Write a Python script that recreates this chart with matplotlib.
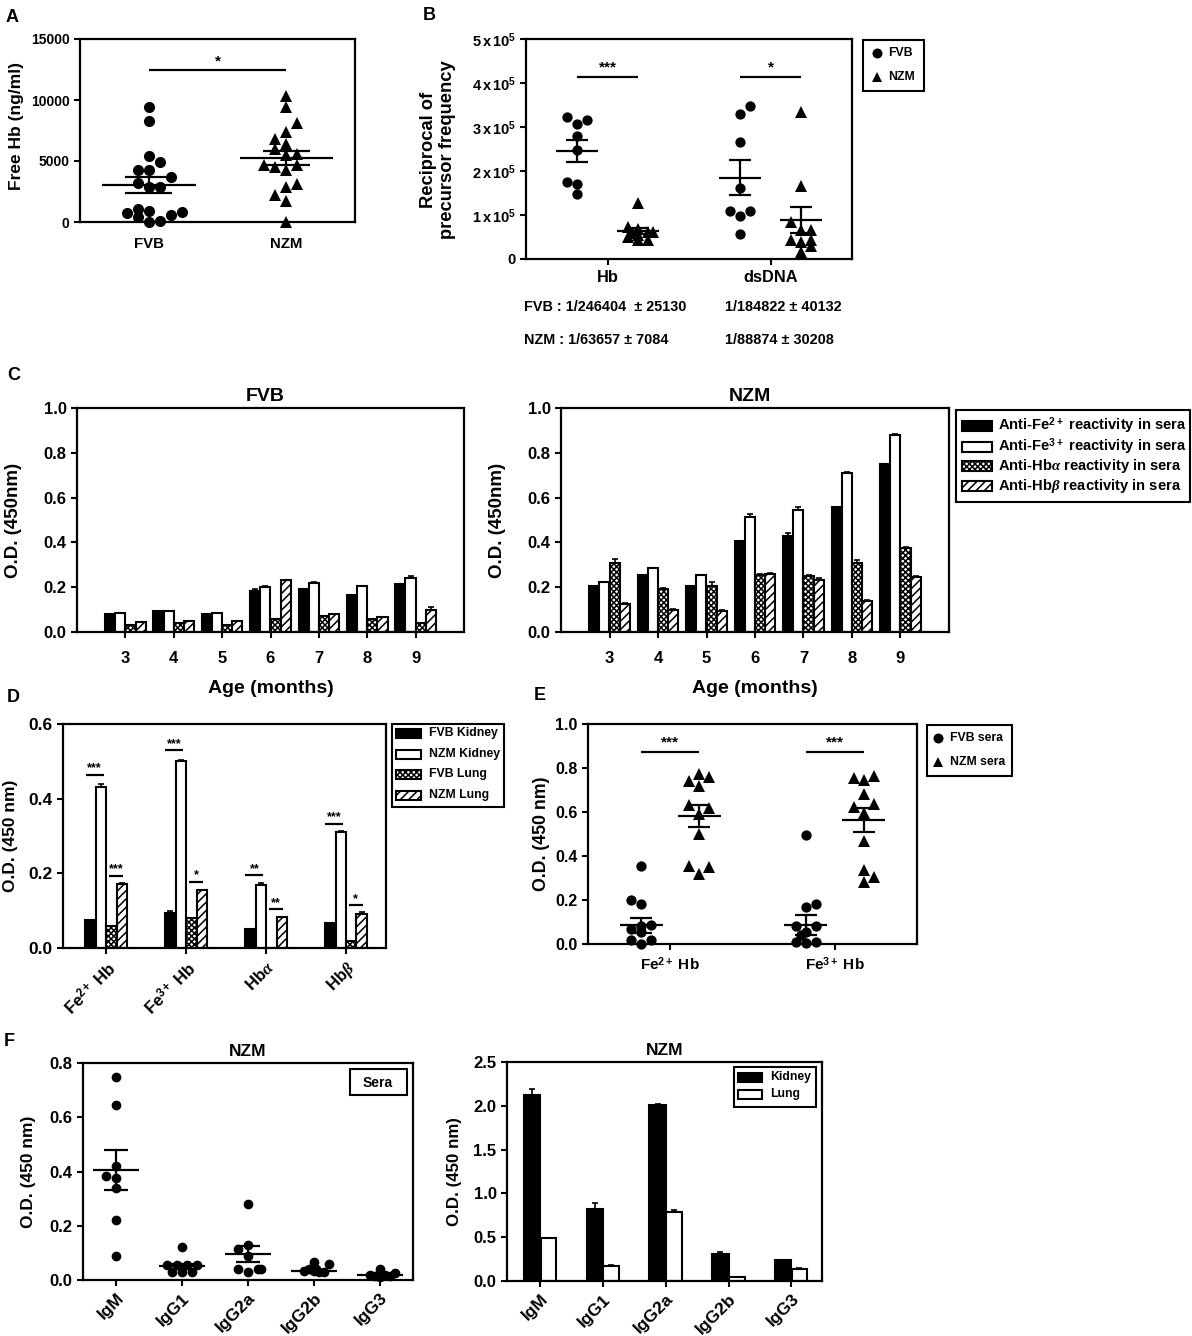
import matplotlib
matplotlib.use('Agg')
import matplotlib.pyplot as plt
from matplotlib.patches import Rectangle
import numpy as np

plt.rcParams['font.family'] = ['Liberation Sans', 'DejaVu Sans']
plt.rcParams['font.weight'] = 'bold'
plt.rcParams['mathtext.fontset'] = 'custom'
plt.rcParams['mathtext.rm'] = 'Liberation Sans:bold'
plt.rcParams['mathtext.bf'] = 'Liberation Sans:bold'
plt.rcParams['mathtext.it'] = 'Liberation Serif:italic'
plt.rcParams['hatch.linewidth'] = 1.1

# panel A
a_fvb = [9400, 8300, 5400, 4900, 4300, 4300, 3700, 3200, 2900, 2900, 1100, 900, 700, 600, 800, 400, 0, 50]
a_fvb_step = [0, 0, 0, 1, -1, 0, 2, -1, 0, 1, -1, 0, -2, 2, 3, -1, 0, 1]
a_nzm = [10300, 9400, 8100, 7400, 6800, 6400, 6000, 5500, 5600, 4700, 4500, 4300, 4700, 3100, 2900, 2200, 1700, 0]
a_nzm_step = [0, 0, 1, 0, -1, 0, -1, 0, 1, -2, -1, 0, 1, 1, 0, -1, 0, 0]
a_means = [3000, 5250]
a_errs = [650, 600]
a_labels = ['FVB', 'NZM']

# panel B
b_hb_fvb = [322000, 315000, 307000, 280000, 248000, 176000, 171000, 148000]
b_hb_fvb_step = [-1, 1, 0, 0, 0, -1, 0, 0]
b_hb_nzm = [128000, 72000, 68000, 62000, 62000, 50000, 55000, 43000, 43000, 60000]
b_hb_nzm_step = [0, -1, 0, 1, 1.5, -1, 0, 0, 1, -0.5]
b_ds_fvb = [348000, 330000, 265000, 162000, 108000, 110000, 97000, 56000]
b_ds_fvb_step = [1, 0, 0, 0, -1, 1, 0, 0]
b_ds_nzm = [333000, 166000, 83000, 65000, 67000, 43000, 38000, 43000, 30000, 15000]
b_ds_nzm_step = [0, 0, -1, 0, 1, -1, 0, 1, 1, 0]
b_means = [246404, 63657, 184822, 88874]
b_errs = [25130, 7084, 40132, 30208]
b_labels = ['Hb', 'dsDNA']
b_ticks = [0, 100000, 200000, 300000, 400000, 500000]
b_ticklabels = ['0', r'$\mathbf{1\,x\,10^{5}}$', r'$\mathbf{2\,x\,10^{5}}$', r'$\mathbf{3\,x\,10^{5}}$',
                r'$\mathbf{4\,x\,10^{5}}$', r'$\mathbf{5\,x\,10^{5}}$']

# panel C
ages = [3, 4, 5, 6, 7, 8, 9]
c_fvb_fe2 = [0.08, 0.095, 0.08, 0.185, 0.19, 0.165, 0.215]
c_fvb_fe3 = [0.085, 0.095, 0.085, 0.2, 0.22, 0.205, 0.24]
c_fvb_a = [0.03, 0.04, 0.03, 0.06, 0.07, 0.06, 0.04]
c_fvb_b = [0.045, 0.05, 0.05, 0.23, 0.08, 0.065, 0.1]
c_fvb_err = [[0, 0, 0, 0.005, 0, 0, 0], [0, 0, 0, 0.004, 0.003, 0, 0.008],
             [0, 0, 0, 0, 0, 0, 0], [0, 0, 0, 0.004, 0, 0, 0.012]]
c_nzm_fe2 = [0.205, 0.255, 0.205, 0.405, 0.43, 0.56, 0.75]
c_nzm_fe3 = [0.225, 0.285, 0.255, 0.515, 0.545, 0.71, 0.88]
c_nzm_a = [0.31, 0.19, 0.205, 0.255, 0.25, 0.31, 0.375]
c_nzm_b = [0.125, 0.10, 0.095, 0.26, 0.23, 0.14, 0.245]
c_nzm_err = [[0, 0, 0, 0, 0.012, 0, 0], [0, 0, 0, 0.012, 0.015, 0.003, 0.002],
             [0.015, 0.005, 0.02, 0.005, 0.005, 0.012, 0.003], [0.004, 0.003, 0.003, 0.004, 0.01, 0.005, 0.003]]

# panel D
d_labels = [r'Fe$^{\mathbf{2+}}$ Hb', r'Fe$^{\mathbf{3+}}$ Hb', r'Hb$\alpha$', r'Hb$\beta$']
d_fvb_k = [0.075, 0.095, 0.05, 0.067]
d_nzm_k = [0.43, 0.5, 0.17, 0.312]
d_fvb_l = [0.06, 0.08, 0.0, 0.02]
d_nzm_l = [0.172, 0.155, 0.083, 0.092]
d_errs = [[0, 0.005, 0, 0], [0.008, 0.003, 0.005, 0.001], [0, 0, 0, 0], [0.001, 0.001, 0.001, 0.004]]
d_sig_left = [0.464, 0.53, 0.195, 0.333]
d_sig_right = [0.194, 0.177, 0.104, 0.115]
d_star_left = ['***', '***', '**', '***']
d_star_right = ['***', '*', '**', '*']

# panel E
e_labels = [r'Fe$^{\mathbf{2+}}$ Hb', r'Fe$^{\mathbf{3+}}$ Hb']
e_fe2_fvb = [0.355, 0.2, 0.18, 0.085, 0.07, 0.08, 0.055, 0.02, 0.02, 0.0]
e_fe2_fvb_step = [0, -1, 0, 1, -1, 0, 0, -1, 1, 0]
e_fe2_nzm = [0.775, 0.76, 0.74, 0.72, 0.63, 0.62, 0.59, 0.5, 0.355, 0.35, 0.32]
e_fe2_nzm_step = [0, 1, -1, 0, -1, 1, 0, 0, -1, 1, 0]
e_fe3_fvb = [0.495, 0.18, 0.17, 0.08, 0.08, 0.055, 0.04, 0.01, 0.005, 0.01]
e_fe3_fvb_step = [0, 1, 0, -1, 1, 0, -0.5, -1, 0, 1]
e_fe3_nzm = [0.765, 0.755, 0.745, 0.68, 0.635, 0.625, 0.595, 0.47, 0.335, 0.305, 0.28]
e_fe3_nzm_step = [1, -1, 0, 0, 1, -1, 0, 0, 0, 1, 0]
e_means = [0.085, 0.58, 0.085, 0.565]
e_errs = [0.035, 0.05, 0.045, 0.055]

# panel F
f_labels = ['IgM', 'IgG1', 'IgG2a', 'IgG2b', 'IgG3']
f_sera = [[0.75, 0.645, 0.42, 0.385, 0.375, 0.34, 0.22, 0.09],
          [0.12, 0.055, 0.055, 0.055, 0.055, 0.03, 0.03, 0.03],
          [0.28, 0.13, 0.115, 0.09, 0.04, 0.04, 0.03, 0.04],
          [0.065, 0.06, 0.04, 0.035, 0.035, 0.03, 0.03, 0.04],
          [0.025, 0.02, 0.015, 0.04, 0.01, 0.025, 0.02, 0.015]]
f_sera_step = [[0, 0, 0, -1, 0, 0, 0, 0],
               [0, -1.5, -0.5, 0.5, 1.5, -1, 0, 1],
               [0, 0, -1, 0, -1, 1, 0, 1.3],
               [0, 1.5, -0.5, -1, 0, 0.5, 1, 0.2],
               [0, -1, -0.5, 0, 0, 1.5, 0.5, 1]]
f_sera_means = [0.405, 0.05, 0.095, 0.033, 0.02]
f_sera_errs = [0.075, 0.01, 0.03, 0.005, 0.003]
f_kidney = [2.12, 0.82, 2.01, 0.31, 0.235]
f_kidney_err = [0.07, 0.07, 0.01, 0.02, 0.005]
f_lung = [0.49, 0.175, 0.79, 0.04, 0.14]
f_lung_err = [0.005, 0.005, 0.02, 0.01, 0.005]

W, H = 1192, 1336
fig = plt.figure(figsize=(W / 100, H / 100), dpi=100)


def make_axes(l, t, r, b, xlim, ylim, yticks, size):
    ax = fig.add_axes([l / W, 1 - b / H, (r - l) / W, (b - t) / H])
    ax.set_xlim(xlim)
    ax.set_ylim(ylim)
    ax.set_yticks(yticks)
    for s in ax.spines.values():
        s.set_linewidth(1.6)
    ax.tick_params(axis='both', width=1.5, length=4, labelsize=size)
    ax.box_px = (l, t, r, b)
    return ax


def ylabel(ax, text, xpx, size, ypx=None):
    l, t, r, b = ax.box_px
    ax.set_ylabel(text, fontsize=size, va='center', fontweight='bold')
    y = 0.5 if ypx is None else (b - ypx) / (b - t)
    ax.yaxis.set_label_coords((xpx - l) / (r - l), y)


def swarm(ax, x0, vals, steps, dx, marker, ms):
    xs = x0 + np.array(steps) * dx
    ax.plot(xs, vals, ls='none', marker=marker, ms=ms, color='k', mew=0, clip_on=False, zorder=3)


def mean_err(ax, x0, mean, err, hw, cap):
    ax.hlines(mean, x0 - hw, x0 + hw, color='k', lw=1.6, zorder=4)
    ax.hlines([mean - err, mean + err], x0 - cap, x0 + cap, color='k', lw=1.6, zorder=4)
    ax.vlines(x0, mean - err, mean + err, color='k', lw=1.6, zorder=4)


def sig(ax, x1, x2, y, stars, dy, size=11):
    ax.plot([x1, x2], [y, y], color='k', lw=1.6, solid_capstyle='butt')
    ax.text((x1 + x2) / 2, y + dy, stars, ha='center', va='center', fontsize=size)


def bar(ax, xs, vals, width, errs=None, hatch=None, fill='k', lw=1.5):
    yerr = None if errs is None else [np.zeros(len(errs)), errs]
    ax.bar(xs, vals, width, color=fill, edgecolor='k', linewidth=lw, hatch=hatch, yerr=yerr,
           error_kw=dict(ecolor='k', elinewidth=1.2, capsize=2.5, capthick=1.2), zorder=2)


STYLES = [dict(fill='k'), dict(fill='w'), dict(fill='w', hatch='xxxxxx'), dict(fill='w', hatch='////')]

# A
ax = make_axes(80, 39, 355, 222, (0.5, 2.5), (0, 15000), [0, 5000, 10000, 15000], 10)
ax.set_xticks([1, 2], a_labels, fontsize=10.8)
ax.tick_params(axis='x', length=0, pad=11)
swarm(ax, 1, a_fvb, a_fvb_step, 0.08, 'o', 8)
swarm(ax, 2, a_nzm, a_nzm_step, 0.08, '^', 9)
for i in range(2):
    mean_err(ax, i + 1, a_means[i], a_errs[i], 0.34, 0.17)
sig(ax, 1, 2, 12500, '*', 650)
ylabel(ax, 'Free Hb (ng/ml)', 17, 12.5, 126)

# B
ax = make_axes(526, 39, 852, 259, (0.5, 2.5), (0, 500000), b_ticks, 10.5)
ax.set_yticklabels(b_ticklabels)
ax.set_xticks([1, 2], b_labels, fontsize=11.8)
ax.tick_params(axis='x', pad=4)
swarm(ax, 0.815, b_hb_fvb, b_hb_fvb_step, 0.061, 'o', 7.4)
swarm(ax, 1.185, b_hb_nzm, b_hb_nzm_step, 0.061, '^', 8)
swarm(ax, 1.815, b_ds_fvb, b_ds_fvb_step, 0.061, 'o', 7.4)
swarm(ax, 2.185, b_ds_nzm, b_ds_nzm_step, 0.061, '^', 8)
for x0, m, e in zip([0.815, 1.185, 1.815, 2.185], b_means, b_errs):
    mean_err(ax, x0, m, e, 0.129, 0.0675)
sig(ax, 0.815, 1.185, 413000, '***', 22000)
sig(ax, 1.815, 2.185, 413000, '*', 22000)
ylabel(ax, 'Reciprocal of\nprecursor frequency', 438, 13.2, 150)

# C
c_sets = [('FVB', 77, 464, [c_fvb_fe2, c_fvb_fe3, c_fvb_a, c_fvb_b], c_fvb_err, 14),
          ('NZM', 561, 949, [c_nzm_fe2, c_nzm_fe3, c_nzm_a, c_nzm_b], c_nzm_err, 497)]
for name, l, r, series, errs, lab_x in c_sets:
    ax = make_axes(l, 408, r, 632, (2, 10), (0, 1), [0, 0.2, 0.4, 0.6, 0.8, 1.0], 12)
    ax.set_xticks(ages, [str(a) for a in ages], fontsize=12)
    ax.tick_params(axis='x', pad=10)
    for i, vals in enumerate(series):
        bar(ax, np.array(ages) + (i - 1.5) * 0.21, vals, 0.21, errs[i], **STYLES[i])
    ax.set_title(name, fontsize=14, fontweight='bold', pad=5, x=0.487)
    ax.set_xlabel('Age (months)', fontsize=14, fontweight='bold', labelpad=10)
    ylabel(ax, 'O.D. (450nm)', lab_x, 13.5)

# D
ax = make_axes(63, 724, 386, 948, (0.46, 4.5), (0, 0.6), [0, 0.2, 0.4, 0.6], 12.5)
groups = np.arange(1, 5)
ax.set_xticks(groups, d_labels, rotation=45, ha='right', rotation_mode='anchor', fontsize=12)
for i, vals in enumerate([d_fvb_k, d_nzm_k, d_fvb_l, d_nzm_l]):
    bar(ax, groups + (i - 1.5) * 0.131, vals, 0.131, d_errs[i], **STYLES[i])
for i, g in enumerate(groups):
    sig(ax, g - 0.258, g - 0.033, d_sig_left[i], d_star_left[i], 0.017, 9)
    sig(ax, g + 0.0375, g + 0.208, d_sig_right[i], d_star_right[i], 0.017, 9)
ylabel(ax, 'O.D. (450 nm)', 11, 12.5)

# E
ax = make_axes(588, 724, 917, 944, (0.5, 2.5), (0, 1), [0, 0.2, 0.4, 0.6, 0.8, 1.0], 11.5)
ax.set_xticks([1, 2], e_labels, fontsize=11)
ax.tick_params(axis='x', pad=4)
swarm(ax, 0.823, e_fe2_fvb, e_fe2_fvb_step, 0.06, 'o', 7.4)
swarm(ax, 1.177, e_fe2_nzm, e_fe2_nzm_step, 0.06, '^', 8.4)
swarm(ax, 1.823, e_fe3_fvb, e_fe3_fvb_step, 0.06, 'o', 7.4)
swarm(ax, 2.177, e_fe3_nzm, e_fe3_nzm_step, 0.06, '^', 8.4)
for x0, m, e in zip([0.823, 1.177, 1.823, 2.177], e_means, e_errs):
    mean_err(ax, x0, m, e, 0.131, 0.067)
sig(ax, 0.823, 1.177, 0.872, '***', 0.045)
sig(ax, 1.823, 2.177, 0.872, '***', 0.045)
ylabel(ax, 'O.D. (450 nm)', 541, 12.8)

# F left
ax = make_axes(83, 1063, 413, 1280, (0.5, 5.5), (0, 0.8), [0, 0.2, 0.4, 0.6, 0.8], 12)
xs = np.arange(1, 6)
ax.set_xticks(xs, f_labels, rotation=45, ha='right', rotation_mode='anchor', fontsize=12.5)
for i, x0 in enumerate(xs):
    swarm(ax, x0, f_sera[i], f_sera_step[i], 0.15, 'o', 7)
    mean_err(ax, x0, f_sera_means[i], f_sera_errs[i], 0.354, 0.187)
ax.set_title('NZM', fontsize=12.5, fontweight='bold', pad=5)
ylabel(ax, 'O.D. (450 nm)', 28, 12.5)

# F right
ax = make_axes(507, 1062, 822, 1281, (0.47, 5.49), (0, 2.5), [0, 0.5, 1.0, 1.5, 2.0, 2.5], 12)
ax.set_xticks(xs, f_labels, rotation=45, ha='right', rotation_mode='anchor', fontsize=12.5)
bar(ax, xs - 0.13, f_kidney, 0.265, f_kidney_err, fill='k')
bar(ax, xs + 0.13, f_lung, 0.25, f_lung_err, fill='w')
ax.set_title('NZM', fontsize=12.5, fontweight='bold', pad=5)
ylabel(ax, 'O.D. (450 nm)', 454, 12.2)

# overlay in pixel space for legend boxes, panel letters and the text under B
ov = fig.add_axes([0, 0, 1, 1], zorder=10)
ov.set_xlim(0, W)
ov.set_ylim(H, 0)
ov.axis('off')


def box(x1, y1, x2, y2, lw=1.5):
    ov.add_patch(Rectangle((x1, y1), x2 - x1, y2 - y1, fc='w', ec='k', lw=lw))


def swatch(x1, x2, yc, h, style):
    ov.add_patch(Rectangle((x1, yc - h / 2), x2 - x1, h, fc=style['fill'], ec='k', lw=1.5,
                           hatch=style.get('hatch')))


for letter, x, y in [('A', 6, 17), ('B', 423, 16), ('C', 7, 376), ('D', 7, 698), ('E', 534, 696), ('F', 4, 1041)]:
    ov.text(x, y, letter, fontsize=13, va='center', ha='left')

box(863, 40, 924, 91)
ov.plot([877], [53], marker='o', ms=7.2, color='k', mew=0)
ov.plot([877], [77], marker='^', ms=7.5, color='k', mew=0)
ov.text(888, 53, 'FVB', fontsize=8.8, va='center')
ov.text(888, 77, 'NZM', fontsize=8.8, va='center')

ov.text(524, 307, 'FVB : 1/246404  \u00b1 25130', fontsize=10.4, va='center')
ov.text(524, 340, 'NZM : 1/63657 \u00b1 7084', fontsize=10.4, va='center')
ov.text(725, 307, '1/184822 \u00b1 40132', fontsize=10.4, va='center')
ov.text(725, 340, '1/88874 \u00b1 30208', fontsize=10.4, va='center')

box(956, 410, 1190, 502)
c_legend = [r'Anti-Fe$^{\mathbf{2+}}$ reactivity in sera', r'Anti-Fe$^{\mathbf{3+}}$ reactivity in sera',
            r'Anti-Hb$\alpha$ reactivity in sera', r'Anti-Hb$\beta$ reactivity in sera']
for yc, text, style in zip([426, 447, 466, 486], c_legend, STYLES):
    swatch(962, 992, yc, 10, style)
    ov.text(998, yc, text, fontsize=10.6, va='center')

box(392, 724, 504, 807)
d_legend = ['FVB Kidney', 'NZM Kidney', 'FVB Lung', 'NZM Lung']
for yc, text, style in zip([733, 754, 774, 795], d_legend, STYLES):
    swatch(396, 421, yc, 9, style)
    ov.text(429, yc, text, fontsize=8.8, va='center')

box(927, 725, 1012, 776)
ov.plot([938], [738], marker='o', ms=7.2, color='k', mew=0)
ov.plot([938], [762], marker='^', ms=7.5, color='k', mew=0)
ov.text(950, 738, 'FVB sera', fontsize=8.8, va='center')
ov.text(950, 762, 'NZM sera', fontsize=8.8, va='center')

box(350, 1069, 407, 1095)
ov.text(378, 1083, 'Sera', fontsize=10, va='center', ha='center')

box(734, 1067, 816, 1107)
swatch(738, 762, 1077, 9, STYLES[0])
swatch(738, 762, 1094, 9, STYLES[1])
ov.text(770, 1077, 'Kidney', fontsize=8.8, va='center')
ov.text(770, 1094, 'Lung', fontsize=8.8, va='center')

fig.savefig('out.png', dpi=100)
